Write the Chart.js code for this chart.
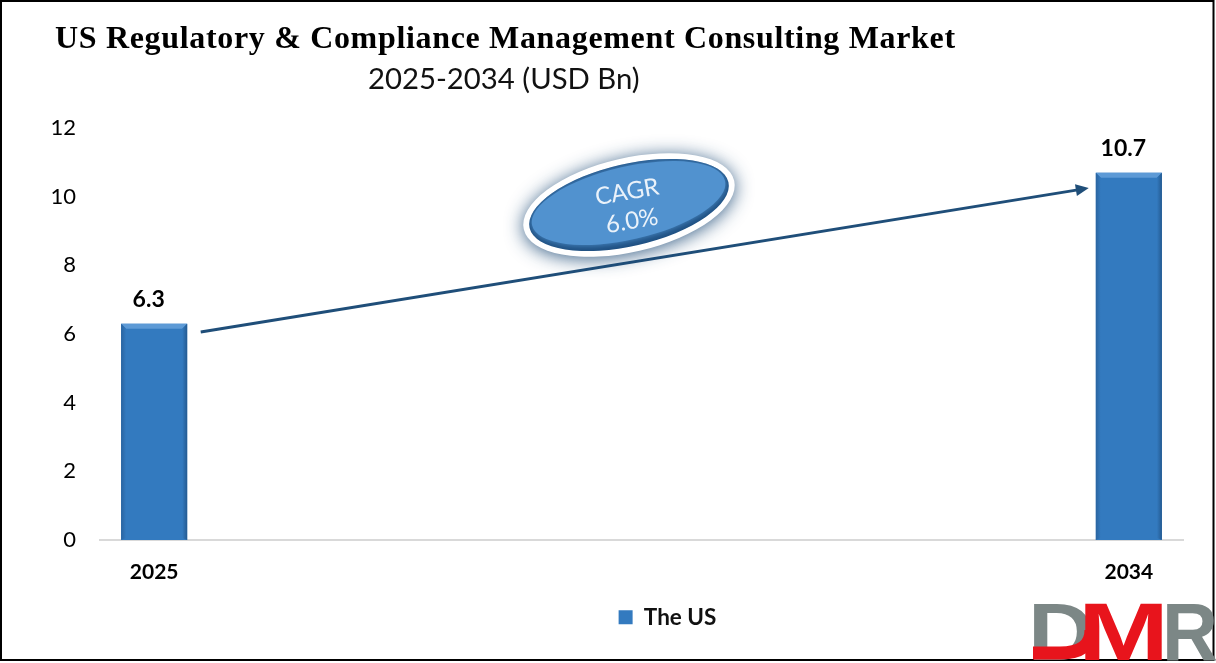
<!DOCTYPE html>
<html><head><meta charset="utf-8">
<script src="https://cdn.jsdelivr.net/npm/chart.js@4/dist/chart.umd.js"></script>
<style>html,body{margin:0;padding:0;background:#fff;overflow:hidden}canvas{display:block}</style>
</head><body><canvas id="c" width="1216" height="663"></canvas>
<script>
const categories = ['2025','','','','','','','','','2034'];
const usValues = [6.3,null,null,null,null,null,null,null,null,10.7];
const seriesName = 'The US';
const yTicks = [0,2,4,6,8,10,12];
const titleLine = 'US Regulatory & Compliance Management Consulting Market';
const subtitleLine = '2025-2034 (USD Bn)';
const cagrLines = ['CAGR','6.0%'];
const arrowFrom = [0.43, 6.06];
const arrowTo = [8.63, 10.25];
const sansFont = 'Lato, "Open Sans", sans-serif';

const decor = {
  id:'decor',
  afterLayout(chart){
    const l = chart.legend, w = l.right - l.left;
    l.left = 76; l.right = 76 + w;
    const h = l.height; l.top = 598; l.bottom = 598 + h;
  },
  beforeDraw(chart){
    const {ctx} = chart;
    ctx.save();
    ctx.fillStyle = '#fff'; ctx.fillRect(0,0,chart.width,chart.height);
    ctx.fillStyle = '#000'; ctx.textBaseline = 'alphabetic'; ctx.textAlign = 'left';
    ctx.font = 'bold 32px "Liberation Serif", serif';
    ctx.letterSpacing = '0.67px';
    ctx.fillText(titleLine, 55, 48);
    ctx.letterSpacing = '0px';
    ctx.font = '29.3px ' + sansFont;
    ctx.fillStyle = '#111';
    ctx.fillText(subtitleLine, 368, 89);
    ctx.restore();
  },
  afterDatasetsDraw(chart){
    const {ctx, scales:{x,y}} = chart;
    const meta = chart.getDatasetMeta(0);
    meta.data.forEach((bar,i)=>{
      if (usValues[i]==null) return;
      const l = bar.x - bar.width/2, r = bar.x + bar.width/2, t = bar.y, b = bar.base, e = 5;
      ctx.save();
      ctx.fillStyle = '#5D9AD6';
      ctx.beginPath(); ctx.moveTo(l,t); ctx.lineTo(r,t); ctx.lineTo(r-e,t+e); ctx.lineTo(l+e,t+e); ctx.fill();
      let g = ctx.createLinearGradient(l,0,l+e,0);
      g.addColorStop(0,'#2A64A0'); g.addColorStop(1,'#337ABF');
      ctx.fillStyle = g; ctx.beginPath(); ctx.moveTo(l,t); ctx.lineTo(l+e,t+e); ctx.lineTo(l+e,b-2); ctx.lineTo(l,b); ctx.fill();
      g = ctx.createLinearGradient(r-e,0,r,0);
      g.addColorStop(0,'#337ABF'); g.addColorStop(1,'#245A91');
      ctx.fillStyle = g; ctx.beginPath(); ctx.moveTo(r,t); ctx.lineTo(r-e,t+e); ctx.lineTo(r-e,b-2); ctx.lineTo(r,b); ctx.fill();
      ctx.fillStyle = '#000'; ctx.font = 'bold 23px ' + sansFont;
      ctx.textAlign = 'center'; ctx.textBaseline = 'alphabetic';
      ctx.fillText(String(usValues[i]), bar.x - 5.5, t - 17);
      ctx.restore();
    });
    // growth arrow
    const x0=x.getPixelForValue(arrowFrom[0]), y0=y.getPixelForValue(arrowFrom[1]);
    const x1=x.getPixelForValue(arrowTo[0]), y1=y.getPixelForValue(arrowTo[1]);
    const a=Math.atan2(y1-y0,x1-x0);
    ctx.save();
    ctx.strokeStyle='#1F4E79'; ctx.fillStyle='#1F4E79'; ctx.lineWidth=3;
    ctx.beginPath(); ctx.moveTo(x0,y0); ctx.lineTo(x1-8*Math.cos(a),y1-8*Math.sin(a)); ctx.stroke();
    ctx.translate(x1,y1); ctx.rotate(a);
    ctx.beginPath(); ctx.moveTo(0,0); ctx.lineTo(-13,-6); ctx.lineTo(-13,6); ctx.closePath(); ctx.fill();
    ctx.restore();
    // CAGR ellipse
    ctx.save();
    ctx.translate(629,205); ctx.rotate(-13*Math.PI/180);
    ctx.save();
    ctx.shadowColor='rgba(25,70,115,.85)'; ctx.shadowBlur=18; ctx.shadowOffsetY=2;
    ctx.fillStyle='#fff'; ctx.beginPath(); ctx.ellipse(0,0,108,47,0,0,Math.PI*2); ctx.fill();
    ctx.restore();
    ctx.save();
    ctx.beginPath(); ctx.ellipse(0,0,102,41,0,0,Math.PI*2); ctx.clip();
    ctx.fillStyle='#1E4F80'; ctx.fillRect(-110,-50,220,100);
    ctx.shadowColor='#5192CF'; ctx.shadowBlur=7;
    ctx.fillStyle='#5192CF'; ctx.beginPath(); ctx.ellipse(0,-2,99,36.5,0,0,Math.PI*2); ctx.fill();
    ctx.restore();
    ctx.restore();
    ctx.save();
    ctx.fillStyle='#EAF2FA'; ctx.font='24px '+sansFont; ctx.textAlign='center'; ctx.textBaseline='middle';
    ctx.translate(627,192); ctx.rotate(-10*Math.PI/180); ctx.fillText(cagrLines[0],0,0); ctx.restore();
    ctx.save();
    ctx.fillStyle='#EAF2FA'; ctx.font='24px '+sansFont; ctx.textAlign='center'; ctx.textBaseline='middle';
    ctx.translate(632,221); ctx.rotate(-10*Math.PI/180); ctx.fillText(cagrLines[1],0,0); ctx.restore();
  },
  afterDraw(chart){
    const {ctx} = chart;
    ctx.save();
    ctx.strokeStyle='#000'; ctx.lineWidth=2; ctx.strokeRect(1,1,1212.5,659);
    // DMR mark
    ctx.font='bold 81px "Liberation Sans", sans-serif'; ctx.textBaseline='alphabetic'; ctx.textAlign='left';
    const draw=(t,col,x,w)=>{ctx.save();ctx.translate(x,660);const m=ctx.measureText(t).width;ctx.scale(w/m,1);ctx.fillStyle=col;ctx.fillText(t,0,0);ctx.restore();};
    draw('D','#7C8786',1028,66);
    draw('R','#7C8786',1162,56);
    draw('M','#E8141C',1078,91);
    ctx.strokeStyle='#E8141C'; ctx.lineWidth=13; ctx.lineCap='butt';
    ctx.beginPath(); ctx.moveTo(1091,630); ctx.quadraticCurveTo(1091,653,1060,653); ctx.lineTo(1033,653); ctx.stroke();
    ctx.restore();
  }
};

new Chart(document.getElementById('c'),{
  type:'bar',
  data:{labels:categories,datasets:[{label:seriesName,data:usValues,backgroundColor:'#337ABF',barPercentage:0.61,categoryPercentage:1}]},
  options:{
    responsive:false,animation:false,devicePixelRatio:1,
    layout:{padding:{top:128,left:0,right:33,bottom:0}},
    plugins:{
      title:{display:false},tooltip:{enabled:false},
      legend:{display:true,position:'bottom',labels:{boxWidth:14,boxHeight:14,padding:8,color:'#111',font:{family:sansFont,size:22.5,weight:'bold'}}}
    },
    scales:{
      x:{
        afterFit(s){s.height=663-540-s.chart.legend.height;},
        grid:{display:false,drawTicks:false},
        border:{display:true,color:'#D9D9D9',width:2},
        ticks:{autoSkip:false,maxRotation:0,padding:20,color:'#000',font:{family:sansFont,size:21,weight:'bold'}}
      },
      y:{
        min:0,max:12,
        afterFit(s){s.width=100;},
        afterBuildTicks(s){s.ticks=yTicks.map(v=>({value:v}));},
        grid:{display:false,drawTicks:false},
        border:{display:false},
        ticks:{padding:24,color:'#000',font:{family:sansFont,size:22}}
      }
    }
  },
  plugins:[decor]
});
</script></body></html>
